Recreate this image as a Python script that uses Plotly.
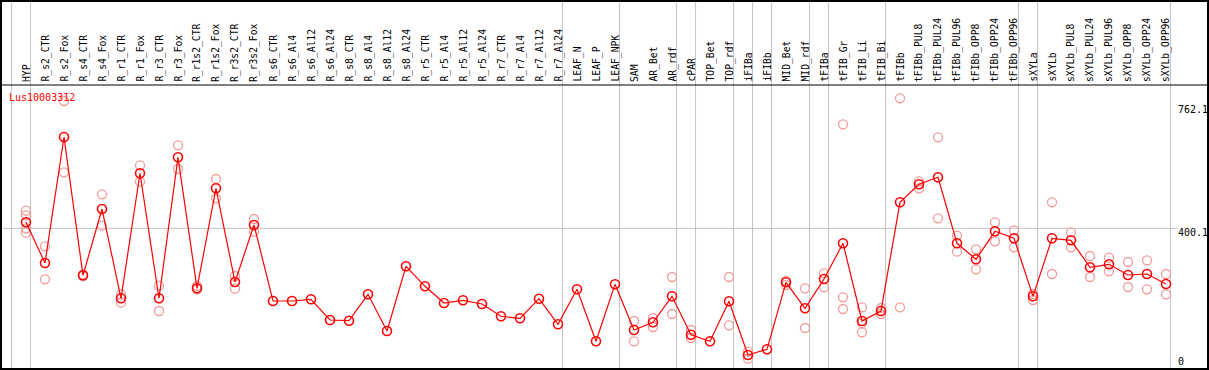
import plotly.graph_objects as go

W, H = 1209, 370

categories = ["HYP", "R_s2_CTR", "R_s2_Fox", "R_s4_CTR", "R_s4_Fox", "R_r1_CTR", "R_r1_Fox",
              "R_r3_CTR", "R_r3_Fox", "R_r1s2_CTR", "R_r1s2_Fox", "R_r3s2_CTR", "R_r3s2_Fox",
              "R_s6_CTR", "R_s6_Al4", "R_s6_Al12", "R_s6_Al24", "R_s8_CTR", "R_s8_Al4",
              "R_s8_Al12", "R_s8_Al24", "R_r5_CTR", "R_r5_Al4", "R_r5_Al12", "R_r5_Al24",
              "R_r7_CTR", "R_r7_Al4", "R_r7_Al12", "R_r7_Al24", "LEAF_N", "LEAF_P", "LEAF_NPK",
              "SAM", "AR_Bet", "AR_rdf", "cPAR", "TOP_Bet", "TOP_rdf", "iFIBa", "iFIBb",
              "MID_Bet", "MID_rdf", "tFIBa", "tFIB_Gr", "tFIB_Li", "tFIB_Bi", "tFIBb",
              "tFIBb_PUL8", "tFIBb_PUL24", "tFIBb_PUL96", "tFIBb_OPP8", "tFIBb_OPP24",
              "tFIBb_OPP96", "sXYLa", "sXYLb", "sXYLb_PUL8", "sXYLb_PUL24", "sXYLb_PUL96",
              "sXYLb_OPP8", "sXYLb_OPP24", "sXYLb_OPP96"]

mean_values = [417.7, 298.3, 667.9, 262.2, 456.7, 194.8, 561.5, 194.8, 608.4, 224.1, 517.5,
               242.6, 409.8, 186.9, 186.9, 191.8, 131.1, 129.1, 206.5, 98.9, 288.6, 230.0,
               181.0, 188.9, 178.1, 142.0, 136.1, 193.6, 118.5, 221.2, 68.6, 235.8, 101.8,
               124.4, 200.6, 88.0, 68.6, 186.0, 28.5, 45.2, 241.7, 165.4, 251.4, 356.1,
               128.2, 157.5, 476.4, 529.2, 549.7, 356.1, 309.2, 391.3, 370.8, 200.6, 370.8,
               364.9, 285.7, 294.5, 263.1, 266.1, 236.7]

replicate_values = [
    [451.7, 438.3, 400.1, 387.2], [347.3, 250.5], [773.5, 564.4], [264.0, 260.2],
    [499.8, 407.7], [206.5, 181.9], [584.9, 536.8], [231.7, 157.5], [643.6, 574.1],
    [230.9, 221.2], [544.7, 488.1], [260.2, 222.9], [427.4, 390.1],
    [], [], [], [], [], [], [], [], [], [], [], [], [], [], [], [], [], [], [],
    [128.2, 68.6], [137.0, 110.6], [257.3, 148.7], [101.8, 78.3], [], [257.3, 115.6],
    [38.1, 17.6], [], [246.4, 233.8], [224.1, 107.7], [268.1, 227.0],
    [705.2, 197.7, 163.4], [168.4, 121.4, 95.0], [166.3, 148.7], [781.5, 168.4],
    [538.0, 517.5], [667.1, 429.5], [378.4, 331.5], [338.5, 279.8], [417.7, 362.0],
    [394.2, 344.4], [207.4, 189.8], [476.4, 266.1], [388.4, 344.4], [318.9, 257.3],
    [313.9, 274.0], [301.3, 227.9], [306.2, 221.2], [266.1, 206.5]]

separator_after = [-1, 0, 28, 31, 34, 35, 37, 38, 39, 41, 42, 45, 52, 53, 60]
axis_ticks = [0, 400.1, 762.1]
title_text = "Lus10003312"

# pixel geometry helpers
X0_PX, X_STEP = 26.0, 19.0
x_range = [-X0_PX / X_STEP, (W - X0_PX) / X_STEP]
Y0_PX, Y_K = 364.7, 0.3409
y_range = [-(H - Y0_PX) / Y_K, Y0_PX / Y_K]

def px(v):
    return v / W

def py(v):
    return (H - v) / H

idx = list(range(len(categories)))

rep_x, rep_y = [], []
for i, reps in enumerate(replicate_values):
    for r in reps:
        rep_x.append(i)
        rep_y.append(r)

fig = go.Figure()
fig.add_trace(go.Scatter(
    x=rep_x, y=rep_y, mode="markers",
    marker=dict(symbol="circle-open", size=9, color="#F29B9B", line=dict(width=1.3)),
    hoverinfo="skip", showlegend=False, cliponaxis=False))
fig.add_trace(go.Scatter(
    x=idx, y=mean_values, mode="lines+markers",
    line=dict(color="#FF0000", width=1.2),
    marker=dict(symbol="circle-open", size=9, color="#FF0000", line=dict(width=1.6)),
    text=categories, showlegend=False, cliponaxis=False))

shapes = []
for s in separator_after:
    xv = s + 0.24
    shapes.append(dict(type="line", xref="x", yref="paper", x0=xv, x1=xv, y0=0, y1=1,
                       line=dict(color="#C4C4C4", width=1), layer="below"))
shapes.append(dict(type="line", xref="paper", yref="y", x0=0, x1=px(1178),
                   y0=axis_ticks[1], y1=axis_ticks[1],
                   line=dict(color="#C4C4C4", width=1), layer="below"))
shapes.append(dict(type="line", xref="paper", yref="paper", x0=0, x1=1,
                   y0=py(85), y1=py(85), line=dict(color="black", width=1)))
shapes.append(dict(type="rect", xref="paper", yref="paper", x0=px(1), x1=px(1208),
                   y0=py(369), y1=py(1), line=dict(color="black", width=2)))

annotations = []
for i, c in enumerate(categories):
    annotations.append(dict(x=i, xref="x", y=py(84), yref="paper", text=c,
                            textangle=-90, showarrow=False, xanchor="center",
                            yanchor="bottom",
                            font=dict(family="DejaVu Sans Mono", size=9.7, color="black")))
annotations.append(dict(x=px(7), xref="paper", y=py(97), yref="paper", text=title_text,
                        showarrow=False, xanchor="left", yanchor="middle",
                        font=dict(family="DejaVu Sans Mono", size=10, color="#FF0000")))
for t in axis_ticks:
    lab = "0" if t == 0 else f"{t:.1f}"
    annotations.append(dict(x=px(1176), xref="paper", y=t, yref="y", text=lab,
                            showarrow=False, xanchor="left",
                            yanchor="bottom" if t == 0 else "top",
                            yshift=-4 if t == 0 else 3,
                            font=dict(family="DejaVu Sans Mono", size=10, color="black")))

fig.update_layout(
    width=W, height=H, margin=dict(l=0, r=0, t=0, b=0, pad=0),
    paper_bgcolor="white", plot_bgcolor="white",
    xaxis=dict(range=x_range, visible=False, domain=[0, 1], fixedrange=True),
    yaxis=dict(range=y_range, visible=False, domain=[0, 1], fixedrange=True),
    shapes=shapes, annotations=annotations, showlegend=False)

fig.write_html("out.html", config={"displayModeBar": False},
               post_script="document.body.style.margin='0';document.body.style.padding='0';"
                           "document.documentElement.style.overflow='hidden';")
